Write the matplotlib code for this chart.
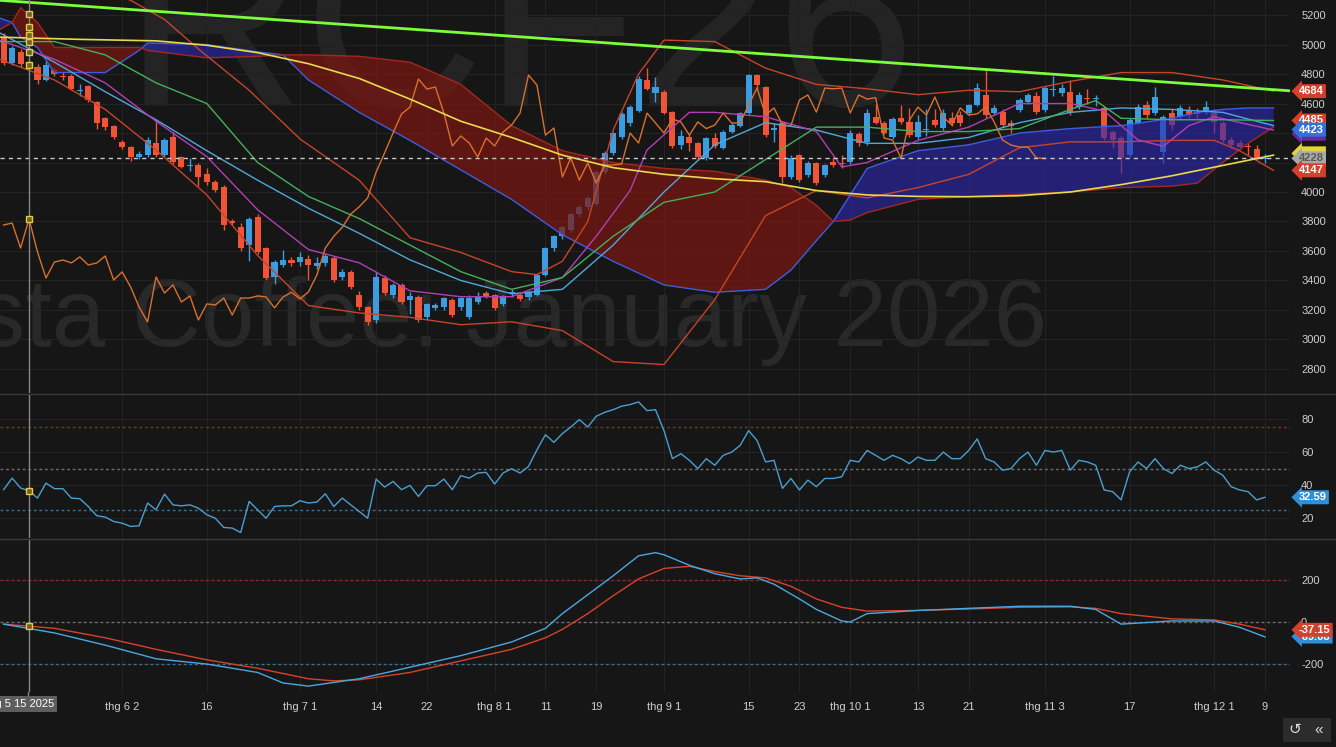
import numpy as np
import matplotlib.pyplot as plt
from matplotlib.patches import Rectangle
from matplotlib.lines import Line2D

plt.rcParams['font.family'] = ['Liberation Sans', 'DejaVu Sans']
plt.rcParams['axes.unicode_minus'] = False

W, H = 1336, 747
BG = "#161616"
GRID = "#232323"
TXT = "#cfcfcf"
UP = "#3d9be0"
DN = "#ef5436"

# ---- candles, trading-day index -3 .. 146 (0 = 15 May 2025) ----
opens = [5044, 4875, 4949, 4880, 4847, 4759, 4827, 4790, 4786, 4685,
         4718, 4610, 4502, 4447, 4339, 4305, 4237, 4251, 4332, 4251,
         4373, 4237, 4175, 4183, 4120, 4068, 4034, 3800, 3763, 3640,
         3830, 3620, 3424, 3505, 3539, 3525, 3546, 3498, 3519, 3553,
         3424, 3458, 3302, 3220, 3132, 3417, 3302, 3370, 3268, 3288,
         3152, 3214, 3220, 3268, 3220, 3152, 3254, 3315, 3302, 3241,
         3310, 3302, 3288, 3302, 3437, 3620, 3700, 3740, 3850, 3900,
         3920, 4135, 4265, 4373, 4468, 4549, 4759, 4671, 4678, 4543,
         4318, 4373, 4332, 4230, 4366, 4298, 4407, 4447, 4535, 4793,
         4712, 4420, 4468, 4100, 4251, 4115, 4197, 4115, 4203, 4200,
         4203, 4393, 4339, 4508, 4468, 4373, 4500, 4475, 4373, 4420,
         4488, 4434, 4500, 4522, 4535, 4590, 4658, 4535, 4542, 4470,
         4556, 4610, 4650, 4556, 4690, 4671, 4678, 4576, 4640, 4630,
         4570, 4407, 4366, 4251, 4468, 4590, 4536, 4271, 4535, 4508,
         4556, 4540, 4542, 4535, 4468, 4352, 4332, 4310, 4290, 4225]
highs = [5080, 4990, 4970, 4900, 4870, 4890, 4840, 4815, 4800, 4730,
         4725, 4620, 4510, 4455, 4350, 4315, 4275, 4370, 4490, 4365,
         4410, 4245, 4230, 4200, 4163, 4080, 4045, 3815, 3790, 3830,
         3850, 3630, 3540, 3610, 3560, 3590, 3570, 3560, 3580, 3565,
         3480, 3470, 3330, 3230, 3460, 3440, 3380, 3385, 3320, 3300,
         3250, 3245, 3290, 3280, 3290, 3300, 3320, 3330, 3310, 3300,
         3340, 3315, 3330, 3445, 3630, 3710, 3770, 3860, 3910, 3970,
         4145, 4275, 4410, 4540, 4590, 4790, 4840, 4780, 4690, 4550,
         4420, 4390, 4340, 4375, 4400, 4420, 4470, 4545, 4800, 4800,
         4720, 4470, 4480, 4250, 4260, 4210, 4205, 4190, 4240, 4250,
         4420, 4410, 4560, 4600, 4480, 4510, 4590, 4570, 4520, 4560,
         4560, 4560, 4540, 4550, 4600, 4740, 4840, 4590, 4560, 4490,
         4640, 4670, 4680, 4720, 4790, 4730, 4760, 4680, 4700, 4660,
         4580, 4420, 4380, 4500, 4600, 4620, 4710, 4520, 4560, 4590,
         4580, 4570, 4620, 4560, 4480, 4370, 4350, 4330, 4320, 4260]
lows = [4860, 4860, 4850, 4840, 4730, 4750, 4790, 4760, 4690, 4650,
        4610, 4430, 4420, 4360, 4290, 4210, 4225, 4240, 4240, 4240,
        4190, 4160, 4140, 4040, 4050, 4000, 3740, 3775, 3600, 3535,
        3580, 3400, 3375, 3490, 3500, 3500, 3400, 3480, 3500, 3390,
        3400, 3340, 3200, 3100, 3110, 3300, 3280, 3240, 3170, 3120,
        3130, 3200, 3200, 3150, 3200, 3140, 3240, 3280, 3200, 3230,
        3290, 3260, 3270, 3295, 3430, 3600, 3680, 3730, 3830, 3880,
        3910, 4120, 4250, 4360, 4450, 4540, 4690, 4610, 4530, 4300,
        4290, 4280, 4220, 4220, 4300, 4290, 4400, 4440, 4530, 4700,
        4370, 4340, 4060, 4090, 4070, 4100, 4050, 4100, 4170, 4160,
        4190, 4310, 4320, 4460, 4390, 4360, 4460, 4370, 4360, 4380,
        4440, 4420, 4450, 4450, 4520, 4580, 4500, 4520, 4440, 4400,
        4540, 4600, 4530, 4540, 4650, 4650, 4520, 4560, 4600, 4580,
        4350, 4300, 4130, 4240, 4460, 4500, 4520, 4200, 4420, 4490,
        4500, 4500, 4530, 4400, 4340, 4300, 4290, 4250, 4220, 4200]
closes = [4875, 4976, 4868, 4861, 4759, 4861, 4800, 4780, 4698, 4695,
          4624, 4468, 4441, 4373, 4305, 4237, 4258, 4353, 4251, 4353,
          4203, 4170, 4185, 4100, 4068, 4014, 3776, 3790, 3620, 3817,
          3593, 3417, 3525, 3539, 3519, 3560, 3505, 3519, 3566, 3403,
          3458, 3356, 3220, 3119, 3424, 3315, 3370, 3254, 3295, 3132,
          3241, 3234, 3281, 3166, 3281, 3281, 3295, 3288, 3214, 3288,
          3320, 3275, 3322, 3437, 3620, 3700, 3760, 3850, 3900, 3960,
          4135, 4265, 4400, 4529, 4576, 4766, 4698, 4712, 4536, 4312,
          4380, 4332, 4237, 4366, 4312, 4407, 4454, 4535, 4793, 4725,
          4386, 4434, 4102, 4230, 4081, 4197, 4061, 4183, 4183, 4190,
          4400, 4332, 4535, 4468, 4400, 4495, 4475, 4386, 4475, 4430,
          4454, 4535, 4468, 4468, 4590, 4705, 4522, 4570, 4454, 4450,
          4624, 4658, 4542, 4705, 4700, 4705, 4536, 4658, 4630, 4640,
          4366, 4352, 4230, 4488, 4576, 4522, 4644, 4508, 4454, 4570,
          4522, 4530, 4576, 4475, 4352, 4318, 4305, 4305, 4230, 4228]

# ---- overlays (read at knots) ----
cloud_idx = [-3.5, -2, -1, 1, 3, 9, 13, 14, 21, 27, 30, 33, 39, 45, 51, 57, 63, 69,
             75, 81, 87, 90, 93, 95, 97, 99, 105, 111, 117, 123, 129, 135, 138, 141, 144, 147]
span_a = [5180, 5150, 5050, 4980, 4810, 4810, 4960, 5010, 5000, 4950, 4930, 4760, 4540, 4350,
          4150, 3950, 3710, 3530, 3370, 3320, 3340, 3470, 3670, 3800, 3980, 4160, 4280, 4320,
          4400, 4430, 4450, 4500, 4540, 4560, 4570, 4570]
span_b = [5100, 5150, 5250, 5150, 4980, 4980, 4980, 4960, 4910, 4920, 4930, 4930, 4920, 4880,
          4730, 4450, 4280, 4200, 4160, 4140, 4080, 4030, 3910, 3800, 3810, 3860, 3950, 3970,
          3985, 4000, 4030, 4040, 4060, 4200, 4330, 4440]

tk_idx = [-3.5, 3, 9, 15, 21, 27, 33, 39, 45, 51, 57, 63, 67, 71, 73, 78, 81, 87, 93, 96,
          99, 105, 111, 117, 123, 127, 129, 131, 134, 137, 140, 147]
tenkan = [5030, 4900, 4740, 4480, 4240, 3880, 3610, 3520, 3330, 3290, 3290, 3420, 3700, 4010,
          4285, 4540, 4540, 4510, 4410, 4170, 4200, 4350, 4440, 4600, 4600, 4550, 4450, 4353,
          4310, 4450, 4510, 4420]

kj_idx = [-3.5, 3, 9, 15, 21, 27, 33, 39, 45, 51, 57, 63, 69, 75, 81, 87, 93, 99, 105, 111,
          117, 123, 126, 129, 135, 141, 147]
kijun = [5020, 5020, 4930, 4740, 4600, 4200, 3970, 3820, 3640, 3460, 3340, 3420, 3700, 3930,
         4000, 4220, 4440, 4440, 4410, 4410, 4430, 4560, 4620, 4500, 4490, 4490, 4485]

ma_idx = [-3.5, 6, 15, 21, 27, 33, 39, 45, 51, 57, 63, 69, 75, 81, 87, 93, 99, 105, 111, 117,
          123, 129, 135, 141, 147]
ma_long = [5050, 5035, 5025, 4995, 4945, 4870, 4770, 4630, 4480, 4370, 4250, 4165, 4120, 4090,
           4070, 4010, 3980, 3970, 3968, 3975, 4000, 4050, 4110, 4180, 4250]

mid_idx = [-3.5, 3, 9, 15, 21, 27, 33, 39, 45, 51, 57, 63, 69, 75, 81, 87, 93, 99, 105, 111,
           117, 123, 129, 135, 141, 147]
bb_mid = [5080, 4880, 4680, 4490, 4280, 4080, 3890, 3720, 3540, 3400, 3310, 3340, 3640, 4000,
          4320, 4470, 4420, 4330, 4330, 4370, 4470, 4540, 4570, 4560, 4540, 4450]

up_idx = [-3.5, 6, 12, 16, 20, 26, 32, 39, 45, 51, 57, 60, 63, 66, 69, 72, 75, 81, 87, 93, 99,
          105, 111, 117, 123, 129, 135, 141, 147]
bb_up = [5500, 5420, 5300, 5170, 4970, 4690, 4360, 4080, 3690, 3590, 3460, 3440, 3530, 3800,
         4420, 4800, 5030, 5020, 4840, 4730, 4700, 4660, 4690, 4680, 4750, 4810, 4810, 4760, 4684]

lo_idx = [-3.5, 3, 9, 15, 21, 27, 33, 39, 45, 51, 57, 63, 69, 75, 81, 87, 93, 99, 105, 111,
          117, 123, 129, 135, 140, 143, 147]
bb_lo = [4900, 4760, 4560, 4285, 3980, 3570, 3230, 3180, 3150, 3100, 3120, 3060, 2850, 2830,
         3270, 3840, 4010, 3960, 4030, 4120, 4300, 4340, 4340, 4350, 4350, 4280, 4147]

trend_idx = [-3.5, 150]
trend_val = [5300, 4682]

# ---- RSI (one per candle) ----
rsi = [37.2, 44.2, 38.2, 36.5, 32.1, 41.2, 37.8, 37.8, 32.1, 31.7,
       27.0, 21.4, 20.6, 17.9, 16.9, 14.9, 15.3, 29.1, 25.0, 34.5,
       28.0, 27.4, 28.0, 26.0, 22.0, 19.9, 14.3, 13.9, 11.2, 30.1,
       25.0, 19.9, 27.0, 27.4, 27.4, 30.5, 29.1, 29.7, 34.7, 27.0,
       32.1, 28.0, 24.0, 19.9, 43.6, 38.8, 42.2, 37.2, 39.8, 33.1,
       39.6, 39.6, 43.6, 37.2, 45.7, 44.2, 47.3, 47.7, 40.6, 47.3,
       49.9, 47.3, 51.3, 61.4, 70.5, 65.9, 71.2, 75.2, 79.7, 75.2,
       81.7, 84.1, 85.7, 87.8, 88.8, 90.4, 85.1, 85.7, 73.0, 56.0,
       59, 55, 50, 56, 52, 58, 60, 64, 73, 67,
       54, 55, 38, 44, 37, 43, 39, 44, 44, 45,
       55, 54, 61, 58, 55, 58, 56, 53, 57, 55,
       55, 60, 56, 56, 61, 68, 56, 54, 49, 50,
       56, 60, 52, 61, 60, 61, 49, 55, 54, 52,
       37, 36, 31, 48, 54, 50, 56, 50, 47, 52,
       50, 51, 54, 49, 46, 39, 37, 36, 31, 32.59]

# ---- MACD ----
macd_idx = [-3, 3, 9, 15, 21, 27, 30, 33, 39, 45, 51, 57, 61, 63, 66, 69, 72, 74, 75, 78, 81,
            84, 86, 88, 91, 93, 96, 97, 99, 105, 111, 117, 123, 126, 129, 135, 140, 143, 146]
macd = [-10, -52, -110, -175, -200, -240, -290, -305, -270, -215, -160, -95, -30, 40, 130, 220,
        315, 330, 320, 270, 230, 205, 210, 180, 110, 60, 5, 0, 40, 55, 65, 75, 75, 60, -10, 5,
        5, -25, -71]
sig_idx = [-3, 3, 9, 15, 21, 27, 33, 36, 39, 45, 51, 57, 61, 63, 66, 69, 72, 75, 78, 81, 84, 87,
           90, 93, 96, 99, 105, 111, 117, 123, 126, 129, 135, 140, 143, 146]
signal = [-10, -30, -75, -130, -180, -220, -270, -280, -275, -240, -185, -130, -75, -35, 40, 125,
          205, 255, 265, 240, 220, 210, 170, 110, 70, 52, 55, 62, 70, 72, 65, 40, 15, 10, -10, -37]

tick_idx = [0, 11, 21, 32, 41, 47, 55, 61, 67, 75, 85, 91, 97, 105, 111, 120, 130, 140, 146]
tick_lbl = ["", "thg 6 2", "16", "thg 7 1", "14", "22", "thg 8 1", "11", "19", "thg 9 1",
            "15", "23", "thg 10 1", "13", "21", "thg 11 3", "17", "thg 12 1", "9"]

# ================= drawing =================
day = np.arange(-3, 147)
o, h, l, c = map(np.array, (opens, highs, lows, closes))

fig = plt.figure(figsize=(W / 100, H / 100), dpi=100)
fig.patch.set_facecolor(BG)


def rect(x0, y0, x1, y1):
    return [x0 / W, 1 - y1 / H, (x1 - x0) / W, (y1 - y0) / H]


# watermarks behind everything
fig.text(915 / W, 1 - 106 / H, "RCF26", ha="right", va="baseline", fontsize=180,
         color="#242424", zorder=-10)
fig.text(1047 / W, 1 - 346 / H, "Robusta Coffee: January 2026", ha="right", va="baseline",
         fontsize=69, color="#292929", zorder=-10)

ax_p = fig.add_axes(rect(0, 0, 1290, 393))
ax_r = fig.add_axes(rect(0, 394, 1290, 538))
ax_m = fig.add_axes(rect(0, 539, 1290, 692))

for ax in (ax_p, ax_r, ax_m):
    ax.set_facecolor("none")
    for s in ax.spines.values():
        s.set_visible(False)
    ax.yaxis.tick_right()
    ax.tick_params(axis="y", length=0, pad=8, labelsize=8, labelcolor=TXT)
    ax.tick_params(axis="x", length=0, labelbottom=False)
    ax.set_xlim(-3.43, 148.95)
    ax.set_xticks(tick_idx)
    ax.grid(True, color=GRID, lw=0.8)
    ax.set_axisbelow(True)
    ax.axvline(0, color="#858585", lw=1, zorder=6)

# ---- price panel ----
ax_p.set_ylim(2637, 5302)
ax_p.set_yticks(range(2800, 5201, 200))

cols = np.where(c >= o, UP, DN)
ax_p.vlines(day, l, h, colors=cols, lw=1, zorder=2)
body = np.maximum(np.abs(c - o), 8)
ax_p.bar(day, body, bottom=np.minimum(o, c), width=0.72, color=cols, zorder=2)

a = np.array(span_a)
b = np.array(span_b)
ax_p.fill_between(cloud_idx, a, b, where=a >= b, interpolate=True, color="#2d28b0",
                  alpha=0.62, lw=0, zorder=3)
ax_p.fill_between(cloud_idx, a, b, where=a < b, interpolate=True, color="#7a1710",
                  alpha=0.72, lw=0, zorder=3)
ax_p.plot(cloud_idx, a, color="#3d5de0", lw=1, zorder=3)
ax_p.plot(cloud_idx, b, color="#a3281d", lw=1, zorder=3)

ax_p.plot(up_idx, bb_up, color="#c8432a", lw=1, zorder=4)
ax_p.plot(lo_idx, bb_lo, color="#c8432a", lw=1, zorder=4)
ax_p.plot(mid_idx, bb_mid, color="#4fa8dc", lw=1, zorder=4)
ax_p.plot(tk_idx, tenkan, color="#b13fb5", lw=1, zorder=4)
ax_p.plot(kj_idx, kijun, color="#45b05a", lw=1, zorder=4)
ax_p.plot(day[26:] - 26, c[26:], color="#d8702f", lw=1, zorder=4)
ax_p.plot(ma_idx, ma_long, color="#e8da4c", lw=1.2, zorder=4)
ax_p.plot(trend_idx, trend_val, color="#7cff3a", lw=2, zorder=5)
ax_p.axhline(4228, color="#c8c8c8", lw=1, ls=(0, (3, 3)), zorder=5)

# hover markers on the crosshair
ax_p.plot([0] * 7, [5207, 5119, 5064, 5017, 4949, 4861, 3817], ls="none", marker="s", ms=4.5,
          mfc="#6e6128", mec="#e6c84a", zorder=7)

# ---- RSI panel ----
ax_r.set_ylim(7.9, 95.2)
ax_r.set_yticks([20, 40, 60, 80])
ax_r.axhline(75, color="#8e2a22", lw=1, ls=(0, (2, 2)))
ax_r.axhline(50, color="#6f6f6f", lw=1, ls=(0, (2, 2)))
ax_r.axhline(25, color="#3f6f90", lw=1, ls=(0, (2, 2)))
ax_r.plot(day, rsi, color="#4a9fd0", lw=1, zorder=4)
ax_r.plot([0], [rsi[3]], ls="none", marker="s", ms=4.5, mfc="#6e6128", mec="#e6c84a", zorder=7)

# ---- MACD panel ----
ax_m.set_ylim(-333, 395)
ax_m.set_yticks([-200, 0, 200])
ax_m.axhline(200, color="#8e2a22", lw=1, ls=(0, (2, 2)))
ax_m.axhline(0, color="#6f6f6f", lw=1, ls=(0, (2, 2)))
ax_m.axhline(-200, color="#3f6f90", lw=1, ls=(0, (2, 2)))
ax_m.plot(sig_idx, signal, color="#d9412b", lw=1, zorder=4)
ax_m.plot(macd_idx, macd, color="#4aa8e0", lw=1, zorder=4)
ax_m.plot([0], [-20], ls="none", marker="s", ms=4.5, mfc="#6e6128", mec="#e6c84a", zorder=7)
ax_m.set_xticklabels(tick_lbl)
ax_m.tick_params(axis="x", labelbottom=True, labelsize=8, labelcolor=TXT, pad=7)


# ---- right-hand value tags ----
def tag(ax, y, text, fc, tc="white"):
    ax.text(1.0 + 9 / 1290, y, text, transform=ax.get_yaxis_transform(), ha="left",
            va="center", fontsize=8, fontweight="bold", color=tc, clip_on=False, zorder=20,
            bbox=dict(boxstyle="larrow,pad=0.18", fc=fc, ec="none"))


tag(ax_p, 4684, "4684", "#d4402a")
tag(ax_p, 4395, "4395", "#6a2a9a", "#6a2a9a")
tag(ax_p, 4485, "4485", "#d4402a")
tag(ax_p, 4423, "4423", "#2e72dc")
tag(ax_p, 4262, "4262", "#e6d23a", "#e6d23a")
tag(ax_p, 4228, "4228", "#a8a8a8", "#5a5a5a")
tag(ax_p, 4147, "4147", "#d4402a")
tag(ax_r, 32.59, "32.59", "#2f8fd8")
tag(ax_m, -69, "-69.08", "#2f8fd8")
tag(ax_m, -37.15, "-37.15", "#d4402a")

# panel separators
for yy in (393.5, 538.5):
    fig.add_artist(Line2D([0, 1], [1 - yy / H, 1 - yy / H], color="#3a3a3a", lw=1))
# crosshair stub down to the date box
fig.add_artist(Line2D([28 / W, 28 / W], [1 - 692 / H, 1 - 697 / H], color="#858585", lw=1))
fig.text(20 / W, 1 - 704 / H, "thg 5 15 2025", ha="center", va="center", fontsize=8,
         color="white", bbox=dict(boxstyle="square,pad=0.3", fc="#5e5e5e", ec="none"))

# bottom-right buttons
for x0, sym in ((1283, "\u21ba"), (1307, "\u00ab")):
    fig.add_artist(Rectangle((x0 / W, 1 - 742 / H), 24 / W, 24 / H, transform=fig.transFigure,
                             fc="#2c2c2c", ec="none"))
    fig.text((x0 + 12) / W, 1 - 730 / H, sym, ha="center", va="center", fontsize=11,
             color="#dddddd")

fig.savefig("out.png", dpi=100, facecolor=BG)
